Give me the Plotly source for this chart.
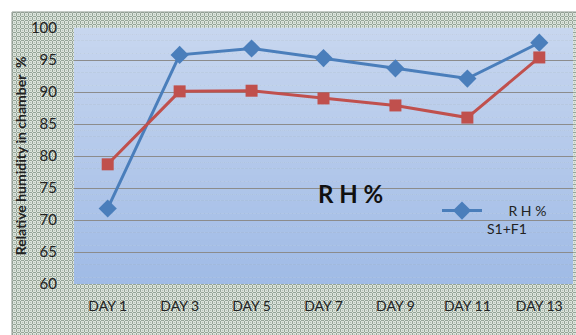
import base64
import struct
import zlib

import numpy as np
import plotly.graph_objects as go

# Relative humidity readings by day
days = ["DAY 1", "DAY 3", "DAY 5", "DAY 7", "DAY 9", "DAY 11", "DAY 13"]
rh_s1f1 = [71.8, 95.8, 96.8, 95.3, 93.7, 92.1, 97.7]
rh_second = [78.7, 90.1, 90.2, 89.0, 87.9, 86.0, 95.4]
y_ticks = [60, 65, 70, 75, 80, 85, 90, 95, 100]

W, H = 576, 335
ML, MR, MT, MB = 74, 3, 28, 51
pw, ph = W - ML - MR, H - MT - MB


def png_data_uri(rgb):
    """Encode an (h, w, 3) uint8 array as a PNG data URI."""
    h, w, _ = rgb.shape
    raw = b"".join(b"\x00" + rgb[r].tobytes() for r in range(h))

    def chunk(tag, data):
        c = struct.pack(">I", len(data)) + tag + data
        return c + struct.pack(">I", zlib.crc32(tag + data) & 0xFFFFFFFF)

    png = (b"\x89PNG\r\n\x1a\n"
           + chunk(b"IHDR", struct.pack(">IIBBBBB", w, h, 8, 2, 0, 0, 0))
           + chunk(b"IDAT", zlib.compress(raw, 9))
           + chunk(b"IEND", b""))
    return "data:image/png;base64," + base64.b64encode(png).decode()


# woven texture for the chart frame
fw, fh = W - 12, H - 12
yy, xx = np.mgrid[0:fh, 0:fw]
dark = ((xx % 4 == 0) | (yy % 4 == 0)) & ~((xx % 4 == 0) & (yy % 4 == 0))
tex = np.empty((fh, fw, 3), dtype=np.uint8)
tex[:] = (0xdb, 0xe3, 0xdb)
tex[dark] = (0x96, 0xa5, 0x98)
tex[(xx % 4 == 2) & (yy % 4 == 2)] = (0xb4, 0xc0, 0xb5)
texture_uri = png_data_uri(tex)

fig = go.Figure()

fig.add_trace(go.Scatter(
    x=days, y=rh_s1f1, mode="lines+markers",
    name="&nbsp;&nbsp;&nbsp;&nbsp;&nbsp;&nbsp;R H %<br>S1+F1",
    line=dict(color="#4a7ebb", width=3),
    marker=dict(symbol="diamond", size=14, color="#4a7ebb"),
))
fig.add_trace(go.Scatter(
    x=days, y=rh_second, mode="lines+markers", showlegend=False,
    line=dict(color="#c0504d", width=3),
    marker=dict(symbol="square", size=12, color="#c0504d"),
))

shapes = []
# frame outline
shapes.append(dict(
    type="rect", xref="paper", yref="paper", layer="below",
    x0=(12 - ML) / pw, x1=(W + 5 - ML) / pw,
    y0=-(MB + 5) / ph, y1=(ph + MT - 12) / ph,
    fillcolor="rgba(0,0,0,0)", line=dict(color="#8d978f", width=1),
))
# vertical gradient inside the plot area
n = 40
top = (0xc7, 0xd6, 0xef)
bot = (0xa0, 0xbb, 0xe6)
for i in range(n):
    t = i / (n - 1)
    c = tuple(round(top[k] + (bot[k] - top[k]) * t) for k in range(3))
    shapes.append(dict(
        type="rect", xref="x domain", yref="y domain", layer="below",
        x0=0, x1=1, y0=1 - (i + 1) / n, y1=1 - i / n + 0.001,
        fillcolor="rgb(%d,%d,%d)" % c, line=dict(width=0),
    ))

fig.update_layout(
    width=W, height=H,
    margin=dict(l=ML, r=MR, t=MT, b=MB, autoexpand=False),
    paper_bgcolor="white", plot_bgcolor="#b4c8ea",
    font=dict(family="Lato, Open Sans, sans-serif", color="#222222", size=14),
    shapes=shapes,
    images=[dict(
        source=texture_uri, xref="paper", yref="paper", layer="below",
        x=(12 - ML) / pw, y=(ph + MT - 12) / ph,
        sizex=fw / pw, sizey=fh / ph, sizing="stretch",
        xanchor="left", yanchor="top",
    )],
    showlegend=True,
    legend=dict(
        x=(437 - ML) / pw, y=(H - MB - 195) / ph, xanchor="left", yanchor="top",
        bgcolor="rgba(0,0,0,0)", font=dict(size=14, color="#222222"),
        valign="top", itemwidth=40,
    ),
    annotations=[dict(
        text="<b>R H %</b>", x=0.555, y=(H - MB - 193) / ph, xref="paper", yref="paper",
        showarrow=False, font=dict(size=24, color="#111111"),
    )],
)

fig.update_xaxes(
    type="category", showgrid=False, showline=False, ticks="",
    ticklabelstandoff=12, tickfont=dict(size=14), fixedrange=True,
)
fig.update_yaxes(
    range=[60, 100], tickvals=y_ticks, showgrid=True, gridcolor="#8c8c8c",
    gridwidth=1, showline=False, zeroline=False, ticks="",
    ticklabelstandoff=16, tickfont=dict(size=15),
    title=dict(text="<b>Relative humidity in chamber  %</b>", font=dict(size=14), standoff=0),
)

fig.write_html("out.html")
